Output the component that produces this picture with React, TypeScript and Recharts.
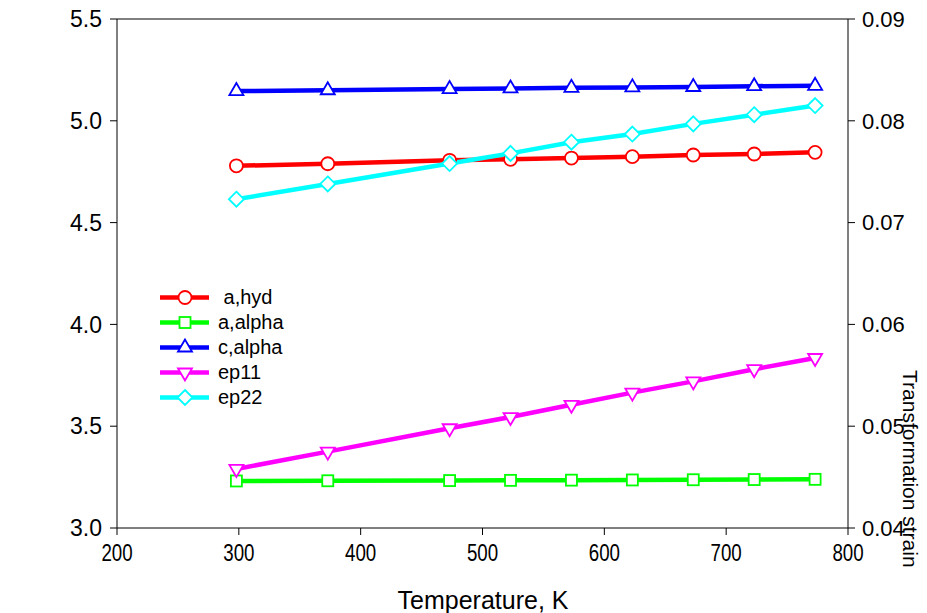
import React from 'react';
import { ComposedChart, Line, XAxis, YAxis, ReferenceLine } from 'recharts';

// Lattice parameters (left axis) and transformation strains (right axis) vs temperature
const temperature = [298, 373, 473, 523, 573, 623, 673, 723, 773];
const aHyd = [4.779, 4.789, 4.806, 4.811, 4.817, 4.824, 4.832, 4.837, 4.845];
const aAlpha = [3.231, 3.232, 3.233, 3.234, 3.235, 3.236, 3.237, 3.238, 3.239];
const cAlpha = [5.146, 5.15, 5.156, 5.159, 5.162, 5.164, 5.166, 5.17, 5.172];
const ep11 = [0.0458, 0.0475, 0.0498, 0.0509, 0.0521, 0.0533, 0.0544, 0.0556, 0.0567];
const ep22 = [0.0723, 0.0738, 0.0758, 0.0768, 0.0779, 0.0787, 0.0797, 0.0806, 0.0815];

const xTicks = [200, 300, 400, 500, 600, 700, 800];
const leftTicks = [3.0, 3.5, 4.0, 4.5, 5.0, 5.5];
const rightTicks = [0.04, 0.05, 0.06, 0.07, 0.08, 0.09];

type Shape = 'circle' | 'square' | 'triangle' | 'triangleDown' | 'diamond';

const series: { key: string; name: string; color: string; shape: Shape; axis: string }[] = [
  { key: 'aHyd', name: ' a,hyd', color: '#ff0000', shape: 'circle', axis: 'left' },
  { key: 'aAlpha', name: 'a,alpha', color: '#00ff00', shape: 'square', axis: 'left' },
  { key: 'cAlpha', name: 'c,alpha', color: '#0000ff', shape: 'triangle', axis: 'left' },
  { key: 'ep11', name: 'ep11', color: '#ff00ff', shape: 'triangleDown', axis: 'right' },
  { key: 'ep22', name: 'ep22', color: '#00ffff', shape: 'diamond', axis: 'right' },
];

const data = temperature.map((t, i) => ({
  t,
  aHyd: aHyd[i],
  aAlpha: aAlpha[i],
  cAlpha: cAlpha[i],
  ep11: ep11[i],
  ep22: ep22[i],
}));

const FONT = '"Liberation Sans", Arial, sans-serif';

const Marker = ({ cx, cy, shape, color }: { cx: number; cy: number; shape: Shape; color: string }) => {
  const common = { fill: '#fff', stroke: color, strokeWidth: 1.8 };
  switch (shape) {
    case 'circle':
      return <circle cx={cx} cy={cy} r={6.5} {...common} />;
    case 'square':
      return <rect x={cx - 5.5} y={cy - 5.5} width={11} height={11} {...common} />;
    case 'triangle':
      return <polygon points={`${cx},${cy - 8} ${cx - 7},${cy + 4} ${cx + 7},${cy + 4}`} {...common} />;
    case 'triangleDown':
      return <polygon points={`${cx},${cy + 8} ${cx - 7},${cy - 4} ${cx + 7},${cy - 4}`} {...common} />;
    default:
      return <polygon points={`${cx},${cy - 7.5} ${cx + 7.5},${cy} ${cx},${cy + 7.5} ${cx - 7.5},${cy}`} {...common} />;
  }
};

// condensed tick labels on the temperature axis
const XTick = ({ x, y, payload }: any) => (
  <text
    transform={`translate(${x},${y}) scale(0.78,1)`}
    dy="0.71em"
    textAnchor="middle"
    fontSize={24}
    fontFamily={FONT}
    fill="#000"
  >
    {payload.value}
  </text>
);

const LegendBox = () => (
  <div style={{ position: 'absolute', left: 159, top: 284.5, fontFamily: FONT, fontSize: 20, color: '#000', lineHeight: '25px' }}>
    {series.map((s) => (
      <div key={s.key} style={{ display: 'flex', alignItems: 'center', height: 25 }}>
        <svg width={59} height={25} style={{ flex: 'none' }}>
          <line x1={1} y1={12.5} x2={50} y2={12.5} stroke={s.color} strokeWidth={4.5} />
          <Marker cx={26} cy={12.5} shape={s.shape} color={s.color} />
        </svg>
        <span style={{ whiteSpace: 'pre' }}>{s.name}</span>
      </div>
    ))}
  </div>
);

export default function App() {
  return (
    <div style={{ position: 'absolute', left: 0, top: 0, width: 927, height: 613, background: '#fff' }}>
      <ComposedChart
        width={927}
        height={613}
        data={data}
        margin={{ top: 19, right: 19, left: 57, bottom: 25 }}
      >
        <XAxis
          dataKey="t"
          type="number"
          domain={[200, 800]}
          ticks={xTicks}
          interval={0}
          height={60}
          tickSize={7}
          tickMargin={9}
          stroke="#000"
          tick={<XTick />}
          label={{
            content: () => (
              <text x={483} y={609} textAnchor="middle" fontSize={25} fontFamily={FONT} fill="#000">
                Temperature, K
              </text>
            ),
          }}
        />
        <YAxis
          yAxisId="left"
          orientation="left"
          type="number"
          domain={[3, 5.5]}
          ticks={leftTicks}
          interval={0}
          width={60}
          tickSize={7}
          tickMargin={8}
          stroke="#000"
          tickFormatter={(v: number) => v.toFixed(1)}
          tick={{ fill: '#000', fontSize: 23, fontFamily: FONT }}
        />
        <YAxis
          yAxisId="right"
          orientation="right"
          type="number"
          domain={[0.04, 0.09]}
          ticks={rightTicks}
          interval={0}
          width={60}
          tickSize={7}
          tickMargin={7}
          stroke="#000"
          tickFormatter={(v: number) => v.toFixed(2)}
          tick={{ fill: '#000', fontSize: 22, fontFamily: FONT }}
          label={{
            content: () => (
              <text
                x={0}
                y={0}
                transform="translate(903,370) rotate(90)"
                fontSize={21}
                fontFamily={FONT}
                fill="#000"
              >
                Transformation strain
              </text>
            ),
          }}
        />
        {/* top frame line */}
        <ReferenceLine yAxisId="left" y={5.5} stroke="#000" strokeWidth={1} ifOverflow="visible" />
        {series.map((s) => (
          <Line
            key={s.key}
            yAxisId={s.axis}
            dataKey={s.key}
            name={s.name}
            type="linear"
            stroke={s.color}
            strokeWidth={4.5}
            isAnimationActive={false}
            dot={(p: any) => <Marker key={`${s.key}-${p.index}`} cx={p.cx} cy={p.cy} shape={s.shape} color={s.color} />}
            activeDot={false}
          />
        ))}
      </ComposedChart>
      <LegendBox />
    </div>
  );
}
